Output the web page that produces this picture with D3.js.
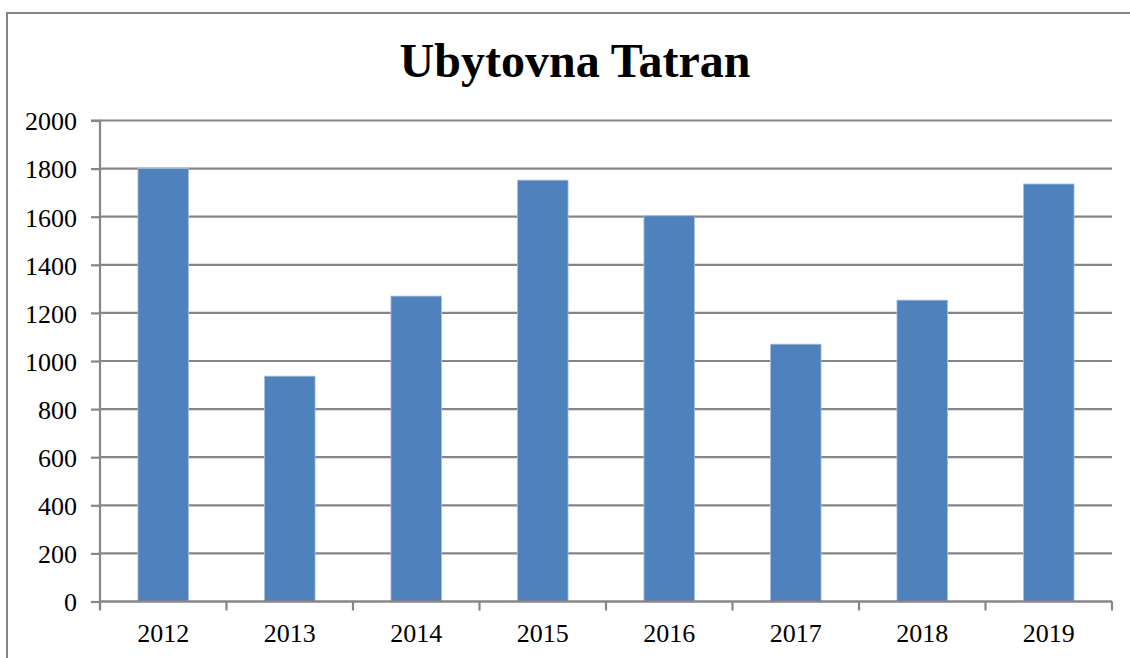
<!DOCTYPE html>
<html><head><meta charset="utf-8">
<script src="https://cdn.jsdelivr.net/npm/d3@7"></script>
<style>body{margin:0;background:#fff}svg{display:block}text{font-family:'Liberation Serif','Times New Roman',serif}</style>
</head><body>
<svg id="c" width="1130" height="658"></svg>
<script>
const title = "Ubytovna Tatran";
const categories = ["2012","2013","2014","2015","2016","2017","2018","2019"];
const values = [1800, 937, 1270, 1752, 1604, 1070, 1253, 1736];
const yTicks = [0,200,400,600,800,1000,1200,1400,1600,1800,2000];

const svg = d3.select("#c");
const m = {l:100, r:1112, t:120.5, b:601.5};
const x = d3.scaleBand().domain(categories).range([m.l, m.r]).paddingInner(0.6).paddingOuter(0.3);
const xb = d3.scaleBand().domain(categories).range([m.l, m.r]);
const y = d3.scaleLinear().domain([0,2000]).range([m.b, m.t]);
const grid = "#868686";
const font = "'Liberation Serif','Times New Roman',serif";

svg.append("rect").attr("x",7).attr("y",13).attr("width",1140).attr("height",660)
  .attr("fill","#fff").attr("stroke",grid).attr("stroke-width",2);

svg.append("text").attr("x",575).attr("y",77).attr("text-anchor","middle")
  .style("font-family",font).attr("font-weight","bold").attr("font-size",48)
  .text(title);

// gridlines
svg.append("g").selectAll("line").data(yTicks.filter(d=>d>0)).join("line")
  .attr("x1",m.l).attr("x2",m.r).attr("y1",d=>y(d)).attr("y2",d=>y(d))
  .attr("stroke",grid).attr("stroke-width",2.2);

// y axis
const ya = svg.append("g").attr("transform",`translate(${m.l},0)`)
  .call(d3.axisLeft(y).tickValues(yTicks).tickSize(9).tickPadding(14).tickFormat(d3.format("d")));
ya.attr("font-family",font).attr("font-size",26);
ya.select(".domain").attr("stroke",grid).attr("stroke-width",2.2).attr("d",`M-9,${m.t}H0V${m.b+8}`);
ya.selectAll(".tick line").attr("stroke",grid).attr("stroke-width",2.2);
ya.selectAll(".tick text").style("font-family",font).attr("font-size",26).attr("fill","#000").attr("dy","0.36em");

// bars
svg.append("g").selectAll("rect").data(values).join("rect")
  .attr("x",(d,i)=>x(categories[i])).attr("width",x.bandwidth())
  .attr("y",d=>y(d)).attr("height",d=>y(0)-y(d))
  .attr("fill","#4F81BD").attr("stroke","#a9c0e0").attr("stroke-width",0.8);

// x axis
const xa = svg.append("g").attr("transform",`translate(0,${m.b})`)
  .call(d3.axisBottom(x).tickSize(0).tickPadding(22));
xa.attr("font-family",font).attr("font-size",26);
xa.select(".domain").attr("stroke",grid).attr("stroke-width",2.5).attr("d",`M${m.l},0H${m.r}`);
xa.selectAll(".tick text").style("font-family",font).attr("font-size",26).attr("fill","#000");
const bounds = categories.map(c=>xb(c)).concat([m.r]);
xa.append("g").selectAll("line").data(bounds).join("line")
  .attr("x1",d=>d).attr("x2",d=>d).attr("y1",0).attr("y2",9)
  .attr("stroke",grid).attr("stroke-width",2.2);
</script>
</body></html>
